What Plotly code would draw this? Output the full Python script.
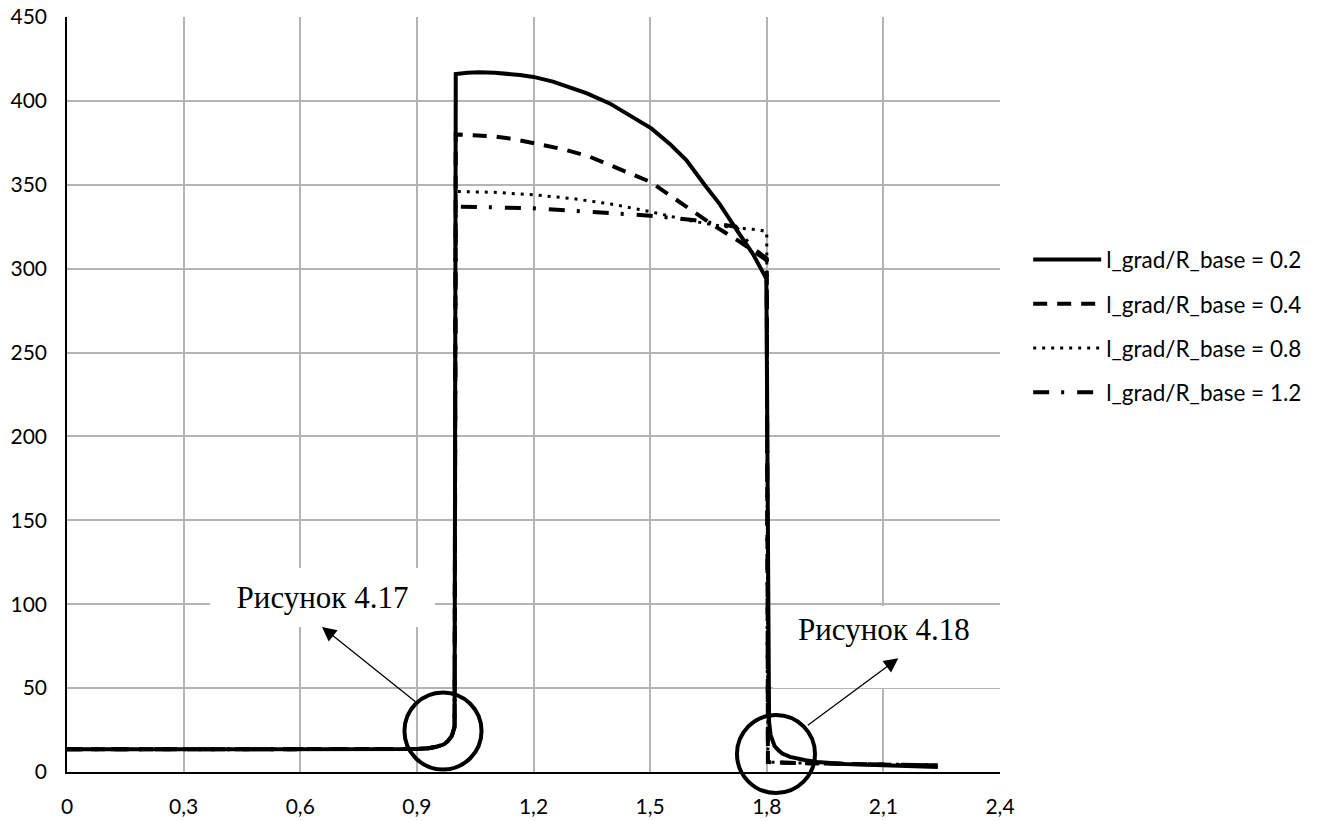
import plotly.graph_objects as go

# ---- data ----
names = ["l_grad/R_base = 0.2", "l_grad/R_base = 0.4", "l_grad/R_base = 0.8", "l_grad/R_base = 1.2"]

x02 = [0, 0.3, 0.6, 0.85, 0.9, 0.93, 0.95, 0.97, 0.98, 0.99, 0.997, 1.0, 1.03, 1.06, 1.1, 1.165, 1.2, 1.25,
       1.336, 1.396, 1.448, 1.503, 1.55, 1.593, 1.64, 1.679, 1.72, 1.765, 1.799, 1.803, 1.806, 1.81, 1.815,
       1.82, 1.83, 1.84, 1.86, 1.88, 1.9, 1.93, 1.97, 2.0, 2.1, 2.2, 2.24]
y02 = [13.5, 13.5, 13.5, 13.5, 13.7, 14.2, 15, 16.5, 18.5, 21.5, 27, 416, 416.8, 417, 416.8, 415.4, 414.3, 411.5,
       404.6, 398.5, 391.5, 383.6, 374.5, 364.7, 350, 338.5, 324, 308.5, 294, 60, 30, 22, 18,
       15.5, 13, 11, 9, 7.8, 7, 6, 5.3, 4.8, 4, 3.3, 3]

x04 = [0, 0.3, 0.6, 0.85, 0.9, 0.93, 0.95, 0.97, 0.98, 0.99, 0.997, 1.0, 1.05, 1.1, 1.15, 1.2, 1.28, 1.345,
       1.42, 1.5, 1.593, 1.662, 1.731, 1.8, 1.803, 1.81, 1.85, 1.9, 2.0, 2.1, 2.24]
y04 = [13.5, 13.5, 13.5, 13.5, 13.7, 14.2, 15, 16.5, 18.5, 21.5, 27, 380, 379.5, 378.8, 377.2, 374.6, 371, 366.7,
       359.5, 351.8, 337, 326, 316, 305, 6, 5.8, 5.5, 5.2, 4.8, 4.4, 4]

x08 = [0, 0.3, 0.6, 0.85, 0.9, 0.93, 0.95, 0.97, 0.98, 0.99, 0.997, 1.0, 1.1, 1.2, 1.3, 1.4, 1.5, 1.593,
       1.679, 1.74, 1.782, 1.8, 1.803, 1.81, 1.85, 1.9, 2.0, 2.1, 2.24]
y08 = [13.5, 13.5, 13.5, 13.5, 13.7, 14.2, 15, 16.5, 18.5, 21.5, 27, 346, 345.5, 344, 341.8, 338.5, 334, 329,
       325.5, 324, 323, 322, 6, 5.8, 5.5, 5.2, 4.8, 4.4, 4]

x12 = [0, 0.3, 0.6, 0.85, 0.9, 0.93, 0.95, 0.97, 0.98, 0.99, 0.997, 1.0, 1.1, 1.2, 1.3, 1.4, 1.5, 1.61,
       1.68, 1.72, 1.76, 1.8, 1.803, 1.81, 1.85, 1.9, 2.0, 2.1, 2.24]
y12 = [13.5, 13.5, 13.5, 13.5, 13.7, 14.2, 15, 16.5, 18.5, 21.5, 27, 337, 336.5, 336, 334.5, 333, 331.6, 329,
       326.5, 325, 313, 306, 6, 5.8, 5.5, 5.2, 4.8, 4.4, 4]

xs = [x02, x04, x08, x12]
ys = [y02, y04, y08, y12]
dashes = ["solid", "14px,10px", "3px,6px", "16px,12px,3px,13px"]
widths = [4, 4, 3, 4]

fig = go.Figure()
for i in range(4):
    fig.add_trace(go.Scatter(
        x=xs[i], y=ys[i], mode="lines", name=names[i], legendgroup=f"g{i}",
        line=dict(color="black", width=widths[i], dash=dashes[i]),
    ))

GRID = "#b4b4b4"
fig.update_layout(
    width=1322, height=821,
    margin=dict(l=67, r=322, t=17, b=49, autoexpand=False),
    paper_bgcolor="white", plot_bgcolor="white",
    separators=", ",
    font=dict(family="Lato", size=20, color="black"),
    showlegend=True,
    legend=dict(x=1.0302, y=0.7067, xanchor="left", yanchor="top",
                font=dict(family="Lato", size=22.5, color="black"),
                itemwidth=68, tracegroupgap=12, bgcolor="rgba(0,0,0,0)"),
    xaxis=dict(range=[0, 2.4], tick0=0, dtick=0.3, showgrid=True, gridcolor=GRID, gridwidth=1.5,
               zeroline=False, showline=True, linecolor="black", linewidth=1.5, ticks="",
               automargin=False,
               ticklabelstandoff=15, tickfont=dict(family="Lato", size=21, color="black")),
    yaxis=dict(range=[0, 450], tick0=0, dtick=50, showgrid=True, gridcolor=GRID, gridwidth=1.5,
               zeroline=False, showline=True, linecolor="black", linewidth=1.5, ticks="",
               automargin=False,
               ticklabelstandoff=14, tickfont=dict(family="Lato", size=21, color="black")),
)

# circles (paper coordinates so they are not clipped)
fig.add_shape(type="circle", xref="paper", yref="paper",
              x0=0.3617, x1=0.4443, y0=0.0033, y1=0.1053,
              line=dict(color="black", width=4), layer="above")
fig.add_shape(type="circle", xref="paper", yref="paper",
              x0=0.7181, x1=0.8017, y0=-0.0278, y1=0.0755,
              line=dict(color="black", width=4), layer="above")

# text boxes
fig.add_annotation(xref="paper", yref="paper", x=0.2738, y=0.2311, xanchor="center", yanchor="middle",
                   text="Рисунок 4.17", showarrow=False, bgcolor="white", width=225, height=59,
                   borderpad=0, borderwidth=0,
                   font=dict(family="Liberation Serif", size=31, color="black"))
fig.add_annotation(xref="paper", yref="paper", x=0.8784, y=0.1656, xanchor="center", yanchor="middle",
                   text=" ", showarrow=False, bgcolor="white", width=227, height=82,
                   borderpad=0, borderwidth=0,
                   font=dict(family="Liberation Serif", size=31, color="black"))
fig.add_annotation(xref="paper", yref="paper", x=0.8752, y=0.1887, xanchor="center", yanchor="middle",
                   text="Рисунок 4.18", showarrow=False,
                   font=dict(family="Liberation Serif", size=31, color="black"))

# arrows
fig.add_annotation(xref="paper", yref="paper", x=0.2733, y=0.1921, ax=95, ay=76, text="",
                   showarrow=True, arrowhead=2, arrowsize=2.2, arrowwidth=1.3, arrowcolor="black")
fig.add_annotation(xref="paper", yref="paper", x=0.891, y=0.1506, ax=-92, ay=68, text="",
                   showarrow=True, arrowhead=2, arrowsize=2.2, arrowwidth=1.3, arrowcolor="black")

fig.write_html("out.html")
